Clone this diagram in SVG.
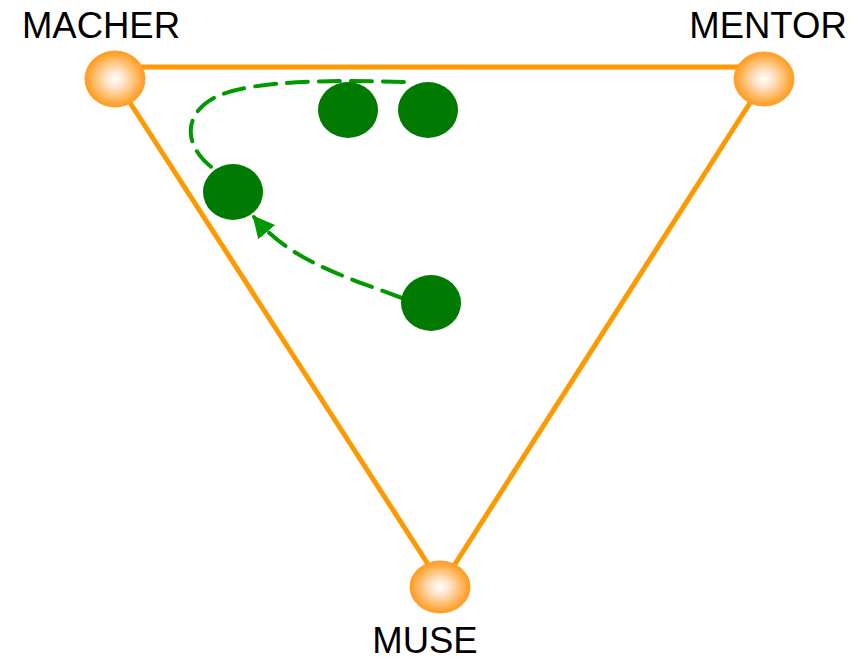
<svg xmlns="http://www.w3.org/2000/svg" width="858" height="662" viewBox="0 0 858 662">
<defs>
<radialGradient id="og" cx="50%" cy="50%" r="50%">
<stop offset="0" stop-color="#ffffff"/>
<stop offset="0.35" stop-color="#ffe0c0"/>
<stop offset="1" stop-color="#ff9a1a"/>
</radialGradient>
<marker id="ah" viewBox="0 0 10 10" refX="9" refY="5" markerWidth="5.5" markerHeight="5.5" orient="auto" markerUnits="strokeWidth">
<path d="M0,0 L10,5 L0,10 z" fill="#009900"/>
</marker>
<style>
.edge{stroke:#ff9900;stroke-width:5;fill:none}
.hub{fill:url(#og);stroke:#ffa030;stroke-width:1}
.dot{fill:#007a00}
.flow{stroke:#009900;stroke-width:4;fill:none;stroke-dasharray:21 11;stroke-linecap:round}
.lbl{font-family:"Liberation Sans",Arial,sans-serif;font-size:36.5px;fill:#000;text-anchor:middle}
</style>
</defs>
<g id="connectors">
<line class="edge" x1="140" y1="67" x2="740" y2="67"/>
<line class="edge" x1="125" y1="95" x2="435" y2="575"/>
<line class="edge" x1="755" y1="95" x2="448" y2="575"/>
<path class="flow" d="M404,82 C330,80 260,80 220,95 C180,112 182,150 220,173"/>
<path class="flow" d="M402,298 C340,275 290,260 254,217" marker-end="url(#ah)"/>
</g>
<g id="macher"><ellipse class="hub" cx="115" cy="79" rx="30" ry="28"/><text class="lbl" x="101" y="38">MACHER</text></g>
<g id="mentor"><ellipse class="hub" cx="764" cy="79" rx="30" ry="27"/><text class="lbl" x="768" y="38">MENTOR</text></g>
<g id="muse"><ellipse class="hub" cx="440" cy="587" rx="30" ry="26"/><text class="lbl" x="425" y="653">MUSE</text></g>
<g id="dot1"><ellipse class="dot" cx="348" cy="110" rx="30" ry="28"/></g>
<g id="dot2"><ellipse class="dot" cx="428" cy="110" rx="30" ry="28"/></g>
<g id="dot3"><ellipse class="dot" cx="233" cy="192" rx="30" ry="28"/></g>
<g id="dot4"><ellipse class="dot" cx="431" cy="303" rx="30" ry="28"/></g>
</svg>
